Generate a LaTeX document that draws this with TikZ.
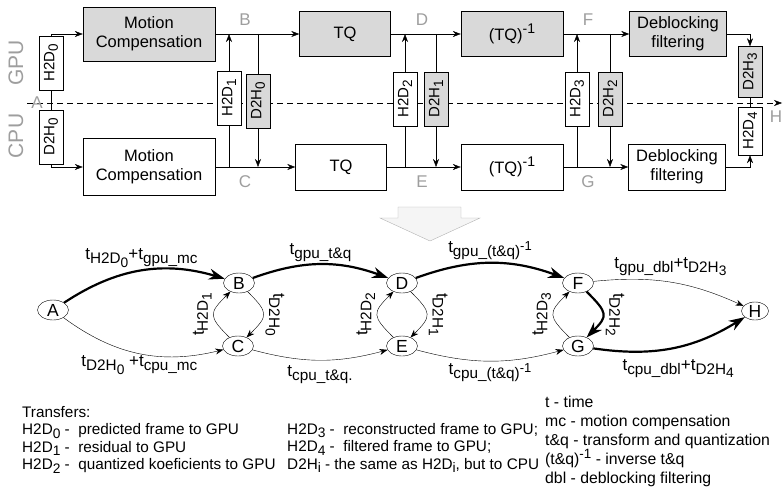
\documentclass[tikz,border=0pt]{standalone}
\usepackage{fontspec}
\setmainfont{Liberation Sans}
\usepackage{graphicx}
\usepackage{xcolor}
\usetikzlibrary{shapes,arrows,arrows.meta,positioning,fit,backgrounds}

\newcommand{\lo}[1]{\raisebox{-0.45ex}{\scalebox{0.9}{#1}}}
\newcommand{\hi}[1]{\raisebox{0.75ex}{\scalebox{0.85}{#1}}}

\definecolor{boxgray}{gray}{0.85}
\definecolor{lblgray}{gray}{0.62}

\begin{document}
\begin{tikzpicture}[
    x=1pt, y=1pt,
    >={Stealth[length=8pt, width=6pt]},
    proc/.style={rectangle, draw, align=center, inner sep=1pt, font=\fontsize{16.5}{19}\selectfont},
    gpu/.style={fill=boxgray},
    xfer/.style={rectangle, draw, fill=white, rotate=90, minimum width=54, minimum height=24, inner sep=0pt, font=\fontsize{15}{17}\selectfont},
    spot/.style={text=lblgray, inner sep=0pt, font=\fontsize{17}{19}\selectfont},
    state/.style={ellipse, draw, minimum width=31, minimum height=20, inner sep=0pt, font=\fontsize{17.5}{19}\selectfont},
    cost/.style={inner sep=2pt, font=\fontsize{17}{19}\selectfont},
    heavy/.style={line width=2.2pt, -{Stealth[length=16pt, width=11pt]}},
    legend/.style={align=left, inner sep=0pt, anchor=north west, font=\fontsize{15.3}{17.5}\selectfont}
]
    \useasboundingbox (0,0) rectangle (783,-497);

    % GPU / CPU border
    \coordinate (lineA) at (27,-103);
    \coordinate (lineH) at (782,-103);
    \draw[dash pattern=on 6pt off 4pt, ->] (lineA) -- (lineH);
    \node[spot, rotate=90, font=\fontsize{21}{23}\selectfont] (gpulbl) at (16,-63) {GPU};
    \node[spot, rotate=90, font=\fontsize{21}{23}\selectfont] (cpulbl) at (16,-136) {CPU};

    % processing steps
    \node[proc, gpu, minimum width=132, minimum height=54] (mcg) at (149,-34) {Motion\\Compensation};
    \node[proc, minimum width=132, minimum height=57] (mcc) at (149,-167) {Motion\\Compensation};
    \node[proc, gpu, minimum width=91, minimum height=45] (tqg) at (345,-34) {TQ};
    \node[proc, minimum width=91, minimum height=46] (tqc) at (341,-167) {TQ};
    \node[proc, gpu, minimum width=102, minimum height=45] (itg) at (512,-34) {(TQ)\hi{-1}};
    \node[proc, minimum width=102, minimum height=46] (itc) at (512,-167) {(TQ)\hi{-1}};
    \node[proc, gpu, minimum width=97, minimum height=45] (dbg) at (678,-34) {Deblocking\\filtering};
    \node[proc, minimum width=97, minimum height=46] (dbc) at (677,-167) {Deblocking\\filtering};

    % transfers
    \node[xfer] (h0) at (51,-63) {H2D\lo{0}};
    \node[xfer] (d0) at (51,-137) {D2H\lo{0}};
    \node[xfer] (h1) at (229,-98) {H2D\lo{1}};
    \node[xfer, gpu] (d0b) at (258,-101) {D2H\lo{0}};
    \node[xfer] (h2) at (405,-99) {H2D\lo{2}};
    \node[xfer, gpu] (d1) at (436,-99) {D2H\lo{1}};
    \node[xfer] (h3) at (577,-99) {H2D\lo{3}};
    \node[xfer, gpu] (d2) at (610,-99) {D2H\lo{2}};
    \node[xfer, gpu, minimum width=51] (d3) at (750,-72) {D2H\lo{3}};
    \node[xfer, minimum width=48] (h4) at (750,-131) {H2D\lo{4}};

    \draw[->] (h0.east) |- (mcg.west);
    \draw[->] (d0.west) |- (mcc.west);
    \draw (h0.west) -- (d0.east);
    \foreach \a/\b in {mcg/tqg, tqg/itg, itg/dbg, mcc/tqc, tqc/itc, itc/dbc}
        \draw[->] (\a.east) -- (\b.west);
    \foreach \h in {h1, h2, h3} {
        \draw[->] (\h.east) -- (\h.east |- mcg.east);
        \draw (\h.west) -- (\h.west |- mcc.east);
    }
    \foreach \d in {d0b, d1, d2} {
        \draw (\d.east |- mcg.east) -- (\d.east);
        \draw[->] (\d.west) -- (\d.west |- mcc.east);
    }
    \draw[->] (dbg.east) -| (d3.east);
    \draw[->] (dbc.east) -| (h4.west);
    \draw (d3.west) -- (h4.east);

    % points
    \node[spot] (lA) at (37,-103) {A};
    \node[spot] (lB) at (245,-20) {B};
    \node[spot] (lC) at (245,-182) {C};
    \node[spot] (lD) at (422,-20) {D};
    \node[spot] (lE) at (422,-182) {E};
    \node[spot] (lF) at (588,-20) {F};
    \node[spot] (lG) at (588,-182) {G};
    \node[spot] (lH) at (776,-117) {H};

    % big arrow
    \draw[draw=gray!60, fill=gray!8] (398,-207) -- (461,-207) -- (461,-218) -- (480,-218)
        -- (430,-241) -- (380,-218) -- (398,-218) -- cycle;

    % graph
    \node[state] (A) at (53,-310) {A};
    \node[state] (B) at (239,-283) {B};
    \node[state] (C) at (238,-346) {C};
    \node[state] (D) at (402,-283) {D};
    \node[state] (E) at (402,-346) {E};
    \node[state] (F) at (578,-283) {F};
    \node[state] (G) at (578,-346) {G};
    \node[state, minimum width=27, minimum height=18] (H) at (755,-311) {H};

    \draw[heavy] (A) to[bend left=25] node[cost, above] {t\lo{H2D\lo{0}}+t\lo{gpu\_mc}} (B);
    \draw[->] (A) to[bend right=25] node[cost, below] {t\lo{D2H\lo{0}} +t\lo{cpu\_mc}} (C);
    \draw[heavy] (B) to[bend left=20] node[cost, above] {t\lo{gpu\_t\&q}} (D);
    \draw[->] (C) to[bend right=15] node[cost, below, yshift=-3pt] {t\lo{cpu\_t\&q.}} (E);
    \draw[heavy] (D) to[bend left=20] node[cost, above] {t\lo{gpu\_(t\&q)\hi{-1}}} (F);
    \draw[->] (E) to[bend right=15] node[cost, below] {t\lo{cpu\_(t\&q)\hi{-1}}} (G);
    \draw[->] (F) to[bend left=15] node[cost, above, yshift=4pt] {t\lo{gpu\_dbl}+t\lo{D2H\lo{3}}} (H);
    \draw[heavy] (G) to[bend right=20] node[cost, below, yshift=-8pt, xshift=6pt] {t\lo{cpu\_dbl}+t\lo{D2H\lo{4}}} (H);

    \draw[->] (C) to[out=135, in=225, looseness=1.7] node[cost, rotate=90, anchor=south] {t\lo{H2D\lo{1}}} (B);
    \draw[->] (B) to[out=-45, in=45, looseness=1.7] node[cost, rotate=-90, anchor=south] {t\lo{D2H\lo{0}}} (C);
    \draw[->] (E) to[out=135, in=225, looseness=1.7] node[cost, rotate=90, anchor=south] {t\lo{H2D\lo{2}}} (D);
    \draw[->] (D) to[out=-45, in=45, looseness=1.7] node[cost, rotate=-90, anchor=south] {t\lo{D2H\lo{1}}} (E);
    \draw[->] (G) to[out=135, in=225, looseness=1.7] node[cost, rotate=90, anchor=south] {t\lo{H2D\lo{3}}} (F);
    \draw[heavy] (F) to[out=-45, in=45, looseness=1.7] node[cost, rotate=-90, anchor=south] {t\lo{D2H\lo{2}}} (G);

    % legend
    \node[legend] (transfers) at (22,-406) {Transfers:\\
        H2D\lo{0} - ~predicted frame to GPU\\
        H2D\lo{1} - ~residual to GPU\\
        H2D\lo{2} - ~quantized koeficients to GPU};
    \node[legend] (transfers2) at (287,-423) {H2D\lo{3} - ~reconstructed frame to GPU;\\
        H2D\lo{4} - ~filtered frame to GPU;\\
        D2H\lo{i} - the same as H2D\lo{i}, but to CPU};
    \node[legend, font=\fontsize{15.8}{19}\selectfont] (abbrev) at (545,-396) {t - time\\
        mc - motion compensation\\
        t\&q - transform and quantization\\
        (t\&q)\hi{-1} - inverse t\&q\\
        dbl - deblocking filtering};
\end{tikzpicture}
\end{document}
